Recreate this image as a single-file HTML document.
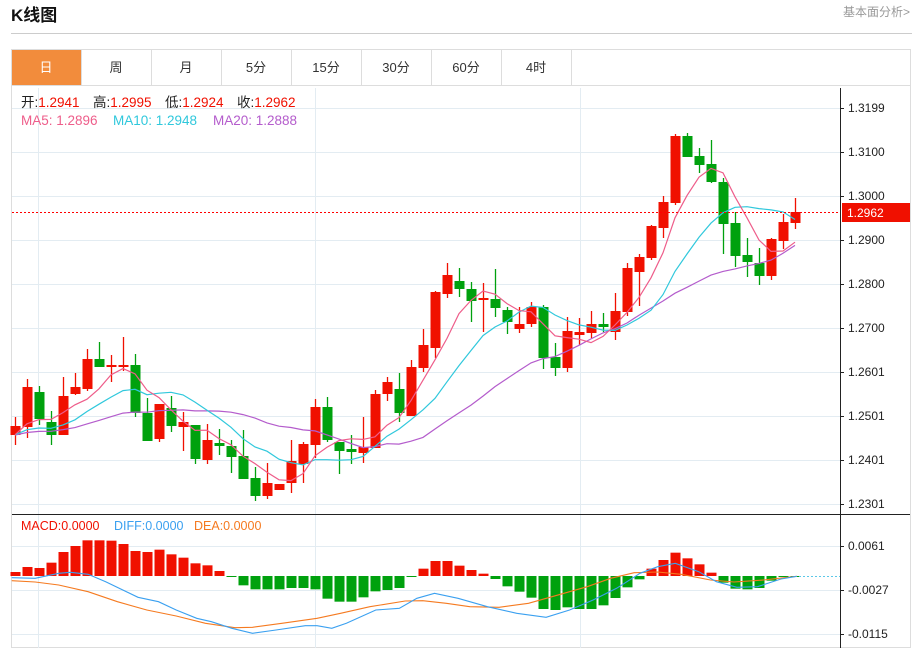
<!DOCTYPE html>
<html><head><meta charset="utf-8"><style>
body{margin:0;background:#fff;font-family:"Liberation Sans","Noto Sans CJK SC",sans-serif;}
svg text{font-family:"Liberation Sans","Noto Sans CJK SC",sans-serif;}
</style></head><body>
<svg id="s" width="916" height="648" xmlns="http://www.w3.org/2000/svg">
<rect width="916" height="648" fill="#fff"/>
<text x="11" y="21" font-size="17" font-weight="bold" fill="#111">K线图</text>
<text x="910" y="16" font-size="12" fill="#999" text-anchor="end">基本面分析&gt;</text>
<line x1="11" y1="33.5" x2="912" y2="33.5" stroke="#ccc"/>
<rect x="11.5" y="49.5" width="899" height="598" fill="none" stroke="#ddd"/>
<line x1="12" y1="85.5" x2="910" y2="85.5" stroke="#ddd"/>
<rect x="12" y="50" width="69" height="35" fill="#f28c3c"/>
<g font-size="13" fill="#333" text-anchor="middle">
<text x="46" y="72" fill="#fff">日</text>
<text x="116" y="72">周</text><text x="186" y="72">月</text><text x="256" y="72">5分</text>
<text x="326" y="72">15分</text><text x="396" y="72">30分</text><text x="466" y="72">60分</text><text x="536" y="72">4时</text>
</g>
<g stroke="#ddd"><line x1="81.5" y1="50" x2="81.5" y2="85"/><line x1="151.5" y1="50" x2="151.5" y2="85"/><line x1="221.5" y1="50" x2="221.5" y2="85"/><line x1="291.5" y1="50" x2="291.5" y2="85"/><line x1="361.5" y1="50" x2="361.5" y2="85"/><line x1="431.5" y1="50" x2="431.5" y2="85"/><line x1="501.5" y1="50" x2="501.5" y2="85"/><line x1="571.5" y1="50" x2="571.5" y2="85"/></g>
<g id="grid" stroke="#e3ecf2"></g>
<g id="cs"></g>
<g id="ma" fill="none" stroke-width="1.2"></g>
<line x1="12" y1="212.5" x2="840" y2="212.5" stroke="#f00" stroke-dasharray="2,2"/>
<line x1="840.5" y1="88" x2="840.5" y2="648" stroke="#222"/>
<line x1="12" y1="514.5" x2="910" y2="514.5" stroke="#222"/>
<rect x="842" y="203" width="68" height="19" fill="#f01000"/>
<text x="847" y="217" font-size="12" fill="#fff">1.2962</text>
<g font-size="12" fill="#222" id="yl"></g>
<g font-size="13.5">
<text x="21" y="107" fill="#222">开:<tspan fill="#f01000">1.2941</tspan></text>
<text x="93" y="107" fill="#222">高:<tspan fill="#f01000">1.2995</tspan></text>
<text x="165" y="107" fill="#222">低:<tspan fill="#f01000">1.2924</tspan></text>
<text x="237" y="107" fill="#222">收:<tspan fill="#f01000">1.2962</tspan></text>
<text x="21" y="125" fill="#ee5d8a">MA5: 1.2896</text>
<text x="113" y="125" fill="#30c8dc">MA10: 1.2948</text>
<text x="213" y="125" fill="#b45ccc">MA20: 1.2888</text>
</g>
<g font-size="12.5">
<text x="21" y="530" fill="#f01000">MACD:0.0000</text>
<text x="114" y="530" fill="#3aa0f0">DIFF:0.0000</text>
<text x="194" y="530" fill="#f57a20">DEA:0.0000</text>
</g>
<g id="macd"></g>
</svg>
<script>
var s=document.getElementById('s'),NS='http://www.w3.org/2000/svg';
function el(p,t,a){var e=document.createElementNS(NS,t);for(var k in a)e.setAttribute(k,a[k]);document.getElementById(p).appendChild(e);return e;}
[108,152,196,240,284,328,372,416,460,504].forEach(function(y){el('grid','line',{x1:12,x2:840,y1:y+.5,y2:y+.5});});
[546,590,634].forEach(function(y){el('grid','line',{x1:12,x2:840,y1:y+.5,y2:y+.5});});
[38,315,580].forEach(function(x){el('grid','line',{x1:x+.5,x2:x+.5,y1:88,y2:648});});
var labs=[[108,'1.3199'],[152,'1.3100'],[196,'1.3000'],[240,'1.2900'],[284,'1.2800'],[328,'1.2700'],[372,'1.2601'],[416,'1.2501'],[460,'1.2401'],[504,'1.2301'],[546,'0.0061'],[590,'-0.0027'],[634,'-0.0115']];
labs.forEach(function(l){el('yl','line',{x1:840,x2:844,y1:l[0]+.5,y2:l[0]+.5,stroke:'#222'});var t=el('yl','text',{x:848,y:l[0]+4});t.textContent=l[1];});
var C=[[1,426,435,417,445],[1,387,427,379,438],[0,392,419,386,425],[0,422,435,411,445],[1,396,435,377,435],[1,387,394,373,395],[1,359,389,349,391],[0,359,367,342,367],[1,365,367,355,382],[1,365,366,337,371],
[0,365,413,354,417],[0,413,441,398,441],[1,404,439,404,442],[0,408,426,396,432],[1,422,427,412,451],[0,425,459,425,464],[1,440,460,424,464],[0,443,446,429,455],[0,446,457,440,473],[0,456,479,430,479],
[0,478,496,467,501],[1,483,496,463,499],[1,484,490,484,490],[1,461,483,440,493],[1,444,464,442,483],[1,407,445,399,458],[0,407,440,397,442],[0,442,451,442,474],[0,449,452,435,464],[1,447,453,417,463],
[1,394,448,390,448],[1,382,394,377,401],[0,389,413,373,422],[1,367,416,360,416],[1,345,368,329,372],[1,292,348,291,358],[1,275,294,263,298],[0,281,289,268,297],[0,289,301,282,322],[1,298,300,283,332],
[0,299,308,269,317],[0,310,322,307,334],[1,324,329,307,333],[1,307,324,302,327],[0,307,358,305,369],[0,357,368,343,376],[1,331,368,317,372],[1,332,335,318,345],[1,324,333,311,338],[0,324,327,313,332],
[1,311,332,293,340],[1,268,312,263,316],[1,257,272,254,306],[1,226,258,225,260],[1,202,228,196,238],[1,136,203,134,205],[0,136,157,133,157],[0,156,165,148,173],[0,164,182,140,183],[0,182,224,178,254],
[0,223,256,212,267],[0,255,262,238,277],[0,263,276,248,285],[1,239,276,238,280],[1,222,241,214,249],[1,212,223,198,229]];
var closes=[];
C.forEach(function(c,i){var x=15+12*i,col=c[0]?'#f01000':'#00a10e';
el('cs','line',{x1:x+.5,x2:x+.5,y1:c[3],y2:c[4],stroke:col,'stroke-width':1.3});
el('cs','rect',{x:x-4.5,y:c[1],width:10,height:Math.max(2,c[2]-c[1]),fill:col});
closes.push(c[0]?c[1]:c[2]);});
var pre=[440,438,442,436,430,428,432,436,440,437,434,438,436,432,430,438,442,440,436,430];
var all=pre.concat(closes);
function ma(n,col){var pts=[];for(var i=0;i<closes.length;i++){var j=i+pre.length,s=0;for(var k=0;k<n;k++)s+=all[j-k];pts.push((15+12*i)+','+(s/n).toFixed(1));}
el('ma','polyline',{points:pts.join(' '),stroke:col});}
ma(20,'#b45ccc');ma(10,'#30c8dc');ma(5,'#ee5d8a');
var M=[186,171,174,158,126,108,91,91,92,102,123,126,119,133,143,160,166,183,201,226,238,238,238,234,234,238,266,275,275,262,244,240,234,199,176,153,153,167,180,191,207,229,245,263,297,300,292,297,297,286,264,232,208,176,150,128,145,163,188,218,236,238,234,212,201,199];
M.forEach(function(v,i){var y=510+v/3,x=15+12*i,z=576;
if(y<z)el('macd','rect',{x:x-4.5,y:y,width:10,height:z-y,fill:'#f01000'});
else el('macd','rect',{x:x-4.5,y:z,width:10,height:Math.max(1,y-z),fill:'#00a10e'});});
el('macd','line',{x1:795,x2:840,y1:576.5,y2:576.5,stroke:'#5cc8e8','stroke-dasharray':'2,2'});
function ln(a,col){el('macd','polyline',{points:a.map(function(p){return (p[0]/1.703).toFixed(1)+','+(510+p[1]/3).toFixed(1);}).join(' '),fill:'none',stroke:col,'stroke-width':1.1});}
ln([[20,212],[60,216],[100,225],[150,245],[200,275],[250,300],[300,318],[350,340],[400,353],[430,352],[480,340],[540,325],[580,310],[630,290],[690,273],[720,272],[760,280],[800,290],[850,292],[900,280],[940,260],[1000,230],[1040,205],[1080,188],[1120,186],[1160,193],[1210,210],[1250,216],[1300,210],[1357,199]],'#f57a20');
ln([[20,203],[60,205],[100,190],[120,187],[150,193],[180,215],[235,262],[270,275],[300,300],[335,325],[360,335],[395,355],[430,370],[470,360],[520,347],[540,347],[565,355],[590,340],[640,300],[680,295],[710,265],[740,250],[780,265],[830,290],[880,310],[930,322],[970,300],[1010,270],[1050,235],[1090,190],[1120,170],[1150,160],[1190,185],[1220,215],[1255,232],[1290,230],[1330,207],[1357,199]],'#3aa0f0');
</script>
</body></html>
